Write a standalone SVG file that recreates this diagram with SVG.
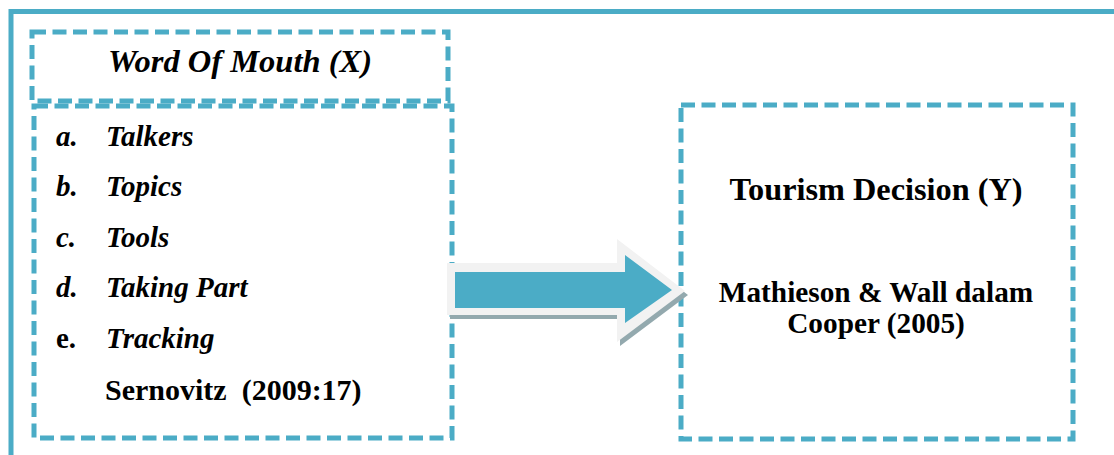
<svg xmlns="http://www.w3.org/2000/svg" width="1114" height="455" viewBox="0 0 1114 455">
<style>
.frame{fill:none;stroke:#4bacc6;stroke-width:5}
.dash{fill:none;stroke:#4bacc6;stroke-width:5;stroke-dasharray:14 6.5}
.t{font-family:"Liberation Serif","Times New Roman",serif;font-weight:bold;fill:#000}
.i{font-style:italic}
</style>
<rect width="1114" height="455" fill="#fff"/>
<g id="frame"><path class="frame" d="M11 455 V11.5 H1114"/></g>
<g id="node-x-title">
<rect class="dash" x="32" y="32" width="416" height="69"/>
<text class="t i" x="240" y="72" font-size="32.5" text-anchor="middle">Word Of Mouth (X)</text>
</g>
<g id="node-x-list">
<rect class="dash" x="34" y="106" width="418" height="332"/>
<g class="t" font-size="29">
<text class="i" x="56" y="146">a.</text><text class="i" x="106" y="146">Talkers</text>
<text class="i" x="56" y="196">b.</text><text class="i" x="106" y="196">Topics</text>
<text class="i" x="56" y="247">c.</text><text class="i" x="106" y="247">Tools</text>
<text class="i" x="56" y="297">d.</text><text class="i" x="106" y="297">Taking Part</text>
<text x="56" y="348">e.</text><text class="i" x="106" y="348">Tracking</text>
<text x="105" y="400" font-size="30" xml:space="preserve">Sernovitz  (2009:17)</text>
</g>
</g>
<g id="node-y">
<rect class="dash" x="681" y="105" width="392" height="334"/>
<text class="t" x="876" y="200" font-size="32.3" text-anchor="middle">Tourism Decision (Y)</text>
<text class="t" x="876" y="302" font-size="29.3" text-anchor="middle">Mathieson &amp; Wall dalam</text>
<text class="t" x="876" y="333" font-size="29.3" text-anchor="middle">Cooper (2005)</text>
</g>
<g id="connectors">
<polygon points="450,267 620,267 620,243 688,295 620,346 620,319 450,319" fill="#93a9ae"/>
<polygon points="447,263 617,263 617,239 685,291 617,342 617,315 447,315" fill="#f2f2f2"/>
<polygon points="455,272 625,272 625,255 672,290 625,323 625,308 455,308" fill="#4bacc6"/>
</g>
</svg>
